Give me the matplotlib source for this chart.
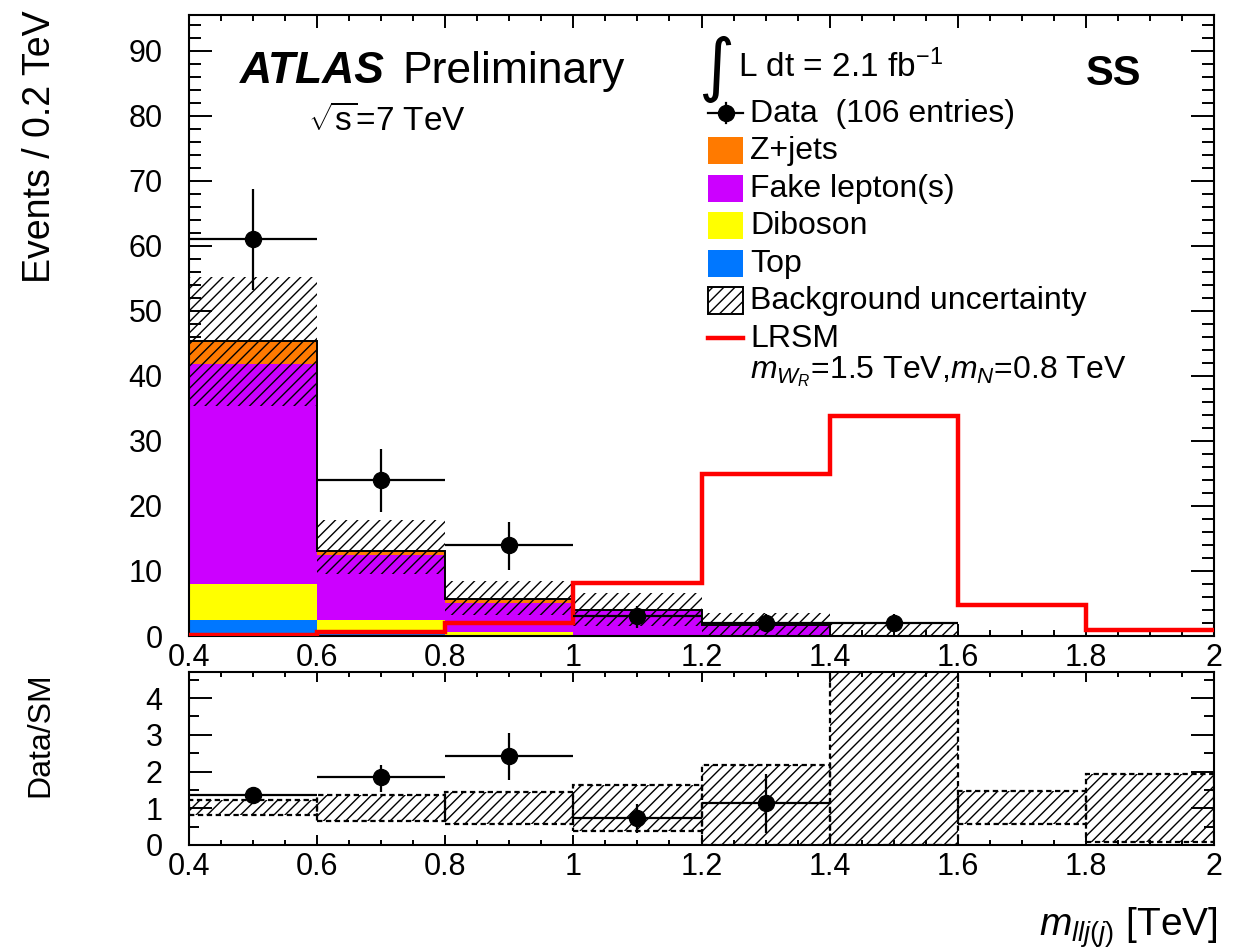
import matplotlib
matplotlib.use("Agg")
import matplotlib.pyplot as plt
from matplotlib.patches import Rectangle
from matplotlib.lines import Line2D
from matplotlib.ticker import MultipleLocator, FuncFormatter
import numpy as np

# ---------------- data ----------------
bin_edges = [0.4, 0.6, 0.8, 1.0, 1.2, 1.4, 1.6, 1.8, 2.0]

top_bkg   = [2.5, 0.4, 0.2, 0.05, 0.02, 0.0, 0.0, 0.0]
diboson   = [5.5, 2.1, 0.45, 0.05, 0.05, 0.05, 0.0, 0.0]
fake      = [33.9, 9.9, 4.5, 3.85, 1.55, 0.0, 0.0, 0.0]
zjets     = [3.4, 0.7, 0.55, 0.05, 0.05, 0.0, 0.0, 0.0]

band_lo   = [35.3, 9.6, 3.3, 1.6, 0.0, 0.0]
band_hi   = [55.2, 17.8, 8.4, 6.6, 3.6, 1.9]

lrsm      = [0.1, 0.6, 2.0, 8.2, 24.9, 33.9, 4.8, 0.9]

data_x    = [0.5, 0.7, 0.9, 1.1, 1.3, 1.5]
data_y    = [61, 24, 14, 3, 2, 2]
data_elo  = [7.8, 5.0, 3.8, 1.7, 1.4, 1.4]
data_ehi  = [7.8, 4.8, 3.6, 1.6, 1.4, 1.4]

ratio_x   = [0.5, 0.7, 0.9, 1.1, 1.3]
ratio_y   = [1.36, 1.86, 2.41, 0.73, 1.14]
ratio_lo  = [1.18, 1.45, 1.77, 0.32, 0.34]
ratio_hi  = [1.54, 2.18, 3.04, 1.12, 1.93]

rband_lo  = [0.82, 0.66, 0.57, 0.39, 0.0, 0.0, 0.56, 0.09]
rband_hi  = [1.23, 1.36, 1.45, 1.63, 2.18, 6.0, 1.48, 1.93]

xticks = [0.4, 0.6, 0.8, 1.0, 1.2, 1.4, 1.6, 1.8, 2.0]

# ---------------- style ----------------
plt.rcParams['font.family'] = ['Liberation Sans', 'DejaVu Sans']
plt.rcParams['mathtext.fontset'] = 'custom'
plt.rcParams['mathtext.rm'] = 'Liberation Sans'
plt.rcParams['mathtext.it'] = 'Liberation Sans:italic'
plt.rcParams['mathtext.bf'] = 'Liberation Sans:bold'
plt.rcParams['hatch.linewidth'] = 1.0

C_Z = '#FF7A00'
C_FAKE = '#CC00FF'
C_DIB = '#FFFF00'
C_TOP = '#0077FF'

W, H = 1246, 950
fig = plt.figure(figsize=(W / 100, H / 100), dpi=100)

def fx(px):
    return px / W

def fy(py):
    return 1 - py / H

L, R = 189, 1214
ax = fig.add_axes([fx(L), fy(636), (R - L) / W, (636 - 15) / H])
axr = fig.add_axes([fx(L), fy(845), (R - L) / W, (845 - 672) / H])

edges = np.array(bin_edges)
left = edges[:-1]
wid = np.diff(edges)

# ---------------- main panel ----------------
bottom = np.zeros(len(left))
for vals, col in [(top_bkg, C_TOP), (diboson, C_DIB), (fake, C_FAKE), (zjets, C_Z)]:
    v = np.array(vals)
    ax.bar(left, v, width=wid, bottom=bottom, align='edge', color=col,
           edgecolor='none', linewidth=0, zorder=2)
    bottom = bottom + v
ax.stairs(bottom, edges, baseline=None, color='black', linewidth=1.4, zorder=3)

nb = len(band_lo)
ax.bar(left[:nb], np.array(band_hi) - np.array(band_lo), width=wid[:nb],
       bottom=band_lo, align='edge', fill=False, hatch='///', edgecolor='black',
       linewidth=0, zorder=4)

ax.stairs(lrsm, edges, baseline=None, color='#FF0000', linewidth=3.2, zorder=5)

ax.errorbar(data_x, data_y, xerr=0.1, yerr=[data_elo, data_ehi], fmt='o',
            color='black', ms=11.5, elinewidth=1.6, capsize=0, zorder=6)

ax.set_xlim(0.4, 2.0)
ax.set_ylim(0, 95.5)

fmt = FuncFormatter(lambda v, p: f"{v:g}")

for a in (ax, axr):
    a.set_xticks(xticks)
    a.xaxis.set_major_formatter(fmt)
    a.xaxis.set_minor_locator(MultipleLocator(0.05))
    for s in a.spines.values():
        s.set_linewidth(1.5)

ax.yaxis.set_major_locator(MultipleLocator(10))
ax.yaxis.set_minor_locator(MultipleLocator(2))
ax.tick_params(axis='both', which='both', direction='in', top=True, right=True,
               width=1.4, labelsize=22)
ax.tick_params(axis='y', which='major', length=16.5, pad=19)
ax.tick_params(axis='y', which='minor', length=8.5)
ax.tick_params(axis='x', which='major', length=9, pad=5)
ax.tick_params(axis='x', which='minor', length=4.5)

# ---------------- ratio panel ----------------
axr.bar(left, np.array(rband_hi) - np.array(rband_lo), width=wid, bottom=rband_lo,
        align='edge', fill=False, hatch='///', edgecolor='black', linewidth=1.6,
        linestyle=(0, (2.4, 1.6)), zorder=2)
yerr_r = [np.array(ratio_y) - np.array(ratio_lo), np.array(ratio_hi) - np.array(ratio_y)]
axr.errorbar(ratio_x, ratio_y, xerr=0.1, yerr=yerr_r, fmt='o', color='black',
             ms=11.5, elinewidth=1.6, capsize=0, zorder=5)
axr.set_xlim(0.4, 2.0)
axr.set_ylim(0, 4.71)
axr.yaxis.set_major_locator(MultipleLocator(1))
axr.yaxis.set_minor_locator(MultipleLocator(0.5))
axr.tick_params(axis='both', which='both', direction='in', top=True, right=True,
                width=1.4, labelsize=22)
axr.tick_params(axis='y', which='major', length=16.5, pad=19)
axr.tick_params(axis='y', which='minor', length=7.5)
axr.tick_params(axis='x', which='major', length=7, pad=5)
axr.tick_params(axis='x', which='minor', length=3.5)

# ---------------- labels ----------------
fig.text(fx(40), fy(10), 'Events / 0.2 TeV', rotation=90, ha='center', va='top', fontsize=27)
fig.text(fx(40), fy(672), 'Data/SM', rotation=90, ha='center', va='top', fontsize=23)
fig.text(fx(1218), fy(936), r'$m_{llj(j)}$ [TeV]', ha='right', va='baseline', fontsize=28)

fig.text(fx(240), fy(83), 'ATLAS', fontsize=32, fontweight='bold', fontstyle='italic',
         ha='left', va='baseline')
fig.text(fx(402), fy(83), 'Preliminary', fontsize=32, ha='left', va='baseline')
fig.text(fx(308), fy(131), r'$\sqrt{\mathrm{s}}$=7 TeV', fontsize=24, ha='left', va='baseline')

fig.text(fx(716), fy(69), '\u222b', fontsize=50, family='DejaVu Sans', ha='center', va='center')
fig.text(fx(738), fy(77), r'L dt = 2.1 fb$^{\mathregular{-1}}$', fontsize=24, ha='left', va='baseline')
fig.text(fx(1086), fy(85), 'SS', fontsize=30, fontweight='bold', ha='left', va='baseline')

# ---------------- legend ----------------
tx = 750
bx0, bx1 = 708, 743
# Data
yb = 122
yc = yb - 9
fig.add_artist(Line2D([fx(bx0), fx(bx1)], [fy(yc), fy(yc)], transform=fig.transFigure,
                      color='black', lw=1.6))
fig.add_artist(Line2D([fx(725.5), fx(725.5)], [fy(yc - 10), fy(yc + 10)], transform=fig.transFigure,
                      color='black', lw=1.6))
fig.add_artist(Line2D([fx(725.5)], [fy(yc)], transform=fig.transFigure, marker='o',
                      color='black', ms=11.5))
fig.text(fx(tx), fy(yb), 'Data  (106 entries)', fontsize=23, ha='left', va='baseline')

entries = [('Z+jets', C_Z, 159.5), ('Fake lepton(s)', C_FAKE, 197), ('Diboson', C_DIB, 234.5),
           ('Top', C_TOP, 272)]
for lab, col, yb in entries:
    fig.add_artist(Rectangle((fx(bx0), fy(yb - 9 + 13.5)), (bx1 - bx0) / W, 27 / H,
                             transform=fig.transFigure, facecolor=col, edgecolor='none'))
    fig.text(fx(tx), fy(yb), lab, fontsize=23, ha='left', va='baseline')

yb = 309.5
fig.add_artist(Rectangle((fx(bx0), fy(yb - 9 + 13.5)), (bx1 - bx0) / W, 27 / H,
                         transform=fig.transFigure, facecolor='none', edgecolor='black',
                         hatch='///', linewidth=1.4))
fig.text(fx(tx), fy(yb), 'Background uncertainty', fontsize=23, ha='left', va='baseline')

yb = 347
fig.add_artist(Line2D([fx(bx0), fx(bx1)], [fy(yb - 9), fy(yb - 9)], transform=fig.transFigure,
                      color='#FF0000', lw=3.2))
fig.text(fx(tx), fy(yb), 'LRSM', fontsize=23, ha='left', va='baseline')
fig.text(fx(tx), fy(378), r'$m_{W_{R}}$=1.5 TeV,$m_{N}$=0.8 TeV', fontsize=23,
         ha='left', va='baseline')

fig.savefig('out.png', dpi=100)
